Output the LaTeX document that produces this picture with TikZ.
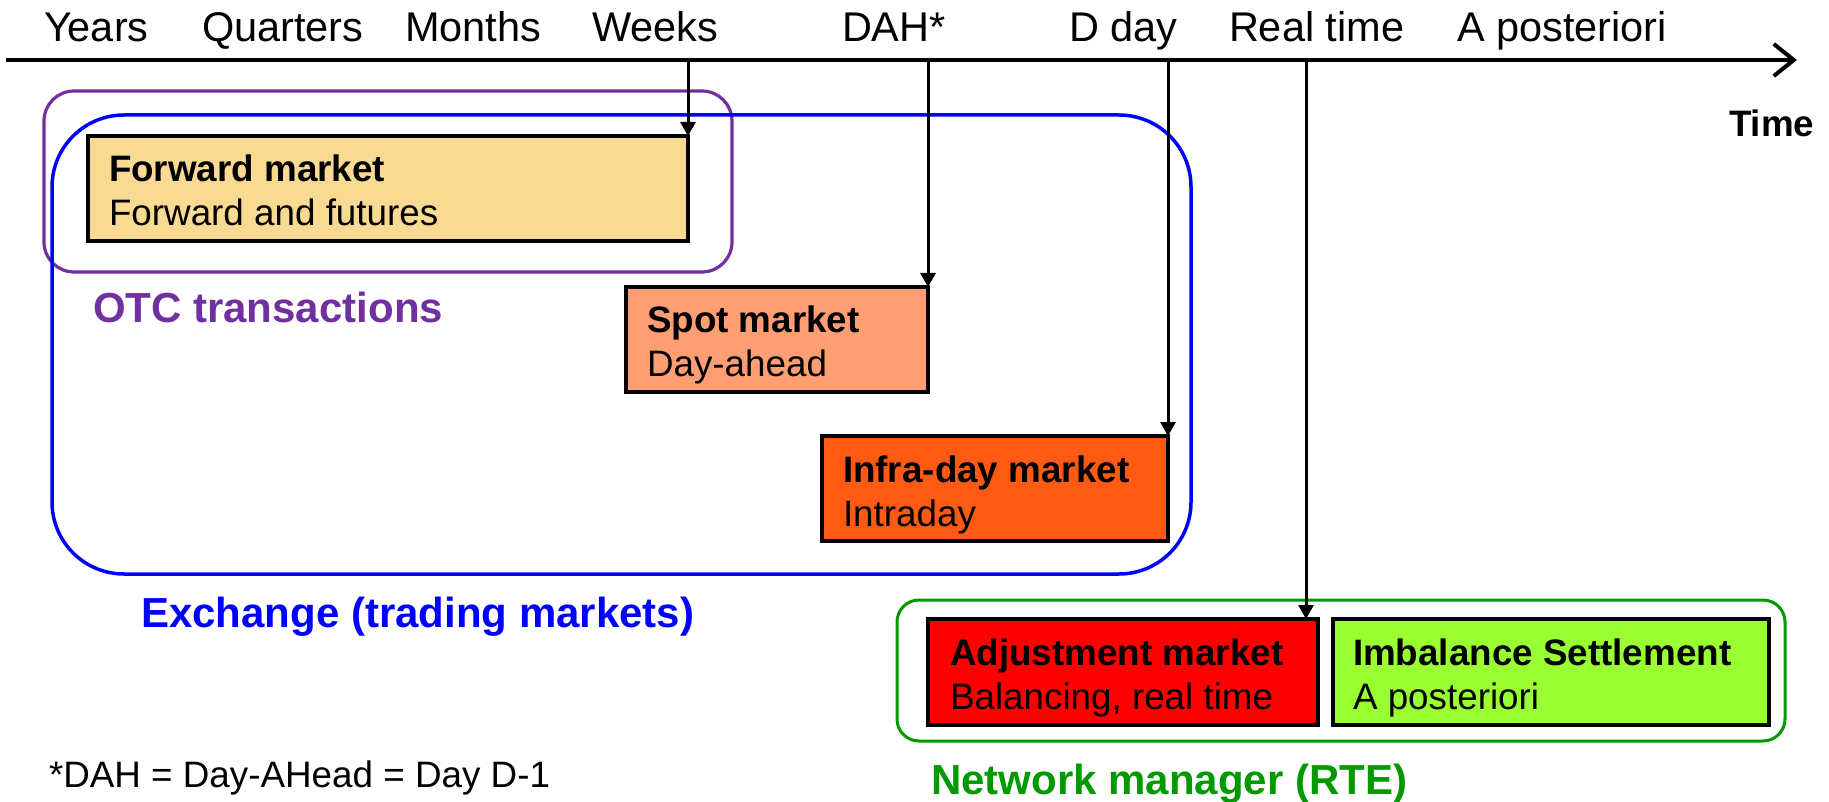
\documentclass[tikz,border=0pt]{standalone}
\usepackage{fontspec}
\setmainfont{Liberation Sans}
\usetikzlibrary{arrows.meta}

\definecolor{otcpurple}{HTML}{7030A0}
\definecolor{exblue}{HTML}{0000FF}
\definecolor{rtegreen}{HTML}{009900}
\definecolor{fwdfill}{HTML}{F9DA92}
\definecolor{spotfill}{HTML}{FF9E73}
\definecolor{intrafill}{HTML}{FF5A14}
\definecolor{adjfill}{HTML}{FF0000}
\definecolor{imbfill}{HTML}{99FF33}

\begin{document}
\begin{tikzpicture}[x=1pt,y=-1pt,
  every node/.style={inner sep=0pt, outer sep=0pt},
  ticklabel/.style={font=\fontsize{41.5}{48}\selectfont, anchor=base west},
  mktbox/.style={draw=black, line width=3.5pt, rectangle},
  mkttitle/.style={font=\bfseries\fontsize{36.8}{44}\selectfont, anchor=base west},
  mktsub/.style={font=\fontsize{36.8}{44}\selectfont, anchor=base west},
  grpframe/.style={rectangle, fill=none},
  grplabel/.style={font=\bfseries\fontsize{42}{50}\selectfont, anchor=base west},
  droparrow/.style={line width=3pt, -{Triangle[length=14pt,width=15pt]}},
]
\useasboundingbox (0,0) rectangle (1829,802);

% grouping frames
\node[grpframe, draw=otcpurple, line width=3.2pt, rounded corners=30pt,
      minimum width=688pt, minimum height=181pt] (otc) at (388,181.5) {};
\node[grpframe, draw=exblue, line width=3.5pt, rounded corners=72pt,
      minimum width=1139pt, minimum height=459pt] (exch) at (621.5,344.5) {};
\node[grpframe, draw=rtegreen, line width=3pt, rounded corners=22pt,
      minimum width=888pt, minimum height=141pt] (rte) at (1341,670.5) {};

% market boxes
\node[mktbox, fill=fwdfill, minimum width=600pt, minimum height=105pt] (fwd) at (388,188.5) {};
\node[mktbox, fill=spotfill, minimum width=302pt, minimum height=105pt] (spot) at (777,339.5) {};
\node[mktbox, fill=intrafill, minimum width=346pt, minimum height=105pt] (intra) at (995,488.5) {};
\node[mktbox, fill=adjfill, minimum width=390pt, minimum height=106pt] (adj) at (1123,672) {};
\node[mktbox, fill=imbfill, minimum width=436pt, minimum height=106pt] (imb) at (1551,672) {};

% box texts
\node[mkttitle] (fwdT) at ([shift={(21,46)}]fwd.north west) {Forward market};
\node[mktsub]   (fwdS) at ([shift={(21,90)}]fwd.north west) {Forward and futures};
\node[mkttitle] (spotT) at ([shift={(21,46)}]spot.north west) {Spot market};
\node[mktsub]   (spotS) at ([shift={(21,90)}]spot.north west) {Day-ahead};
\node[mkttitle] (intraT) at ([shift={(21,46)}]intra.north west) {Infra-day market};
\node[mktsub]   (intraS) at ([shift={(21,90)}]intra.north west) {Intraday};
\node[mkttitle] (adjT) at ([shift={(22,46)}]adj.north west) {Adjustment market};
\node[mktsub]   (adjS) at ([shift={(22,90)}]adj.north west) {Balancing, real time};
\node[mkttitle] (imbT) at ([shift={(20,46)}]imb.north west) {Imbalance Settlement};
\node[mktsub]   (imbS) at ([shift={(20,90)}]imb.north west) {A posteriori};

% time axis
\coordinate (t0) at (6,60);
\coordinate (t1) at (1797,60);
\draw[line width=4pt, -{Straight Barb[length=20pt,width=32pt]}] (t0) -- (t1);

\node[ticklabel] (lyears) at (44,42) {Years};
\node[ticklabel] (lquart) at (202,42) {Quarters};
\node[ticklabel] (lmonth) at (405,42) {Months};
\node[ticklabel] (lweeks) at (592,42) {Weeks};
\node[ticklabel] (ldah) at (842,42) {DAH*};
\node[ticklabel] (lday) at (1069,42) {D day};
\node[ticklabel] (lrt) at (1229,42) {Real time};
\node[ticklabel] (lpost) at (1457,42) {A posteriori};
\node[mkttitle] (ltime) at (1729,137) {Time};

% drops from the axis to the markets
\coordinate (cwk) at (688,60);
\coordinate (cdah) at (928,60);
\coordinate (cday) at (1168,60);
\coordinate (crt) at (1306,60);
\draw[droparrow] (cwk) -- (fwd.north east);
\draw[droparrow] (cdah) -- (spot.north east);
\draw[droparrow] (cday) -- (intra.north east);
\draw[droparrow] (crt) -- (crt |- adj.north);

% group labels and note
\node[grplabel, text=otcpurple] (lotc) at (93,323) {OTC transactions};
\node[grplabel, text=exblue] (lexch) at (141,627) {Exchange (trading markets)};
\node[grplabel, text=rtegreen] (lrte) at (931,794) {Network manager (RTE)};
\node[mktsub] (note) at (49,787) {*DAH = Day-AHead = Day D-1};
\end{tikzpicture}
\end{document}
